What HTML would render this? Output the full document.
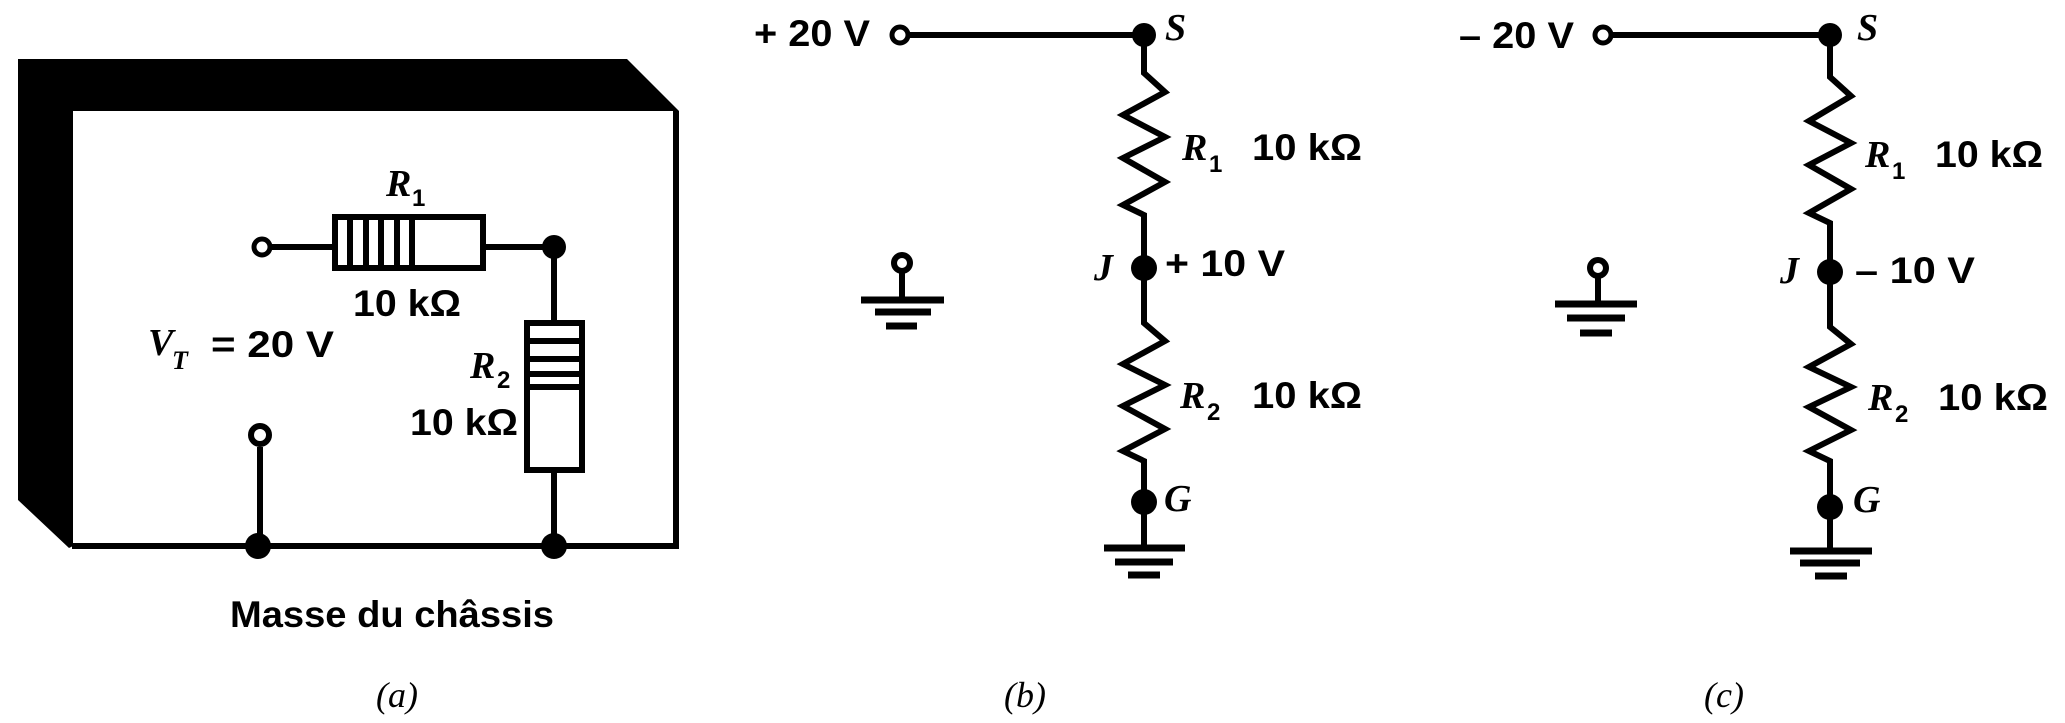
<!DOCTYPE html>
<html><head><meta charset="utf-8"><style>
html,body{margin:0;padding:0;background:#fff;}
svg{display:block;}
.s{font-family:"Liberation Sans",sans-serif;font-weight:bold;font-size:37px;}
.i{font-family:"Liberation Serif",serif;font-style:italic;font-weight:bold;font-size:38px;}
.sub{font-family:"Liberation Sans",sans-serif;font-weight:bold;font-size:24px;}
.c{font-family:"Liberation Serif",serif;font-style:italic;font-size:36px;}
</style></head><body>
<svg width="2065" height="723" viewBox="0 0 2065 723" xmlns="http://www.w3.org/2000/svg">
<polygon points="18,59 627,59 679,111 73,111 73,114 73,546 69,548 18,500" fill="#000"/>
<rect x="74" y="114" width="602" height="431" fill="#fff"/>
<g fill="none" stroke="#000" stroke-width="6">
<polyline points="676,111 676,546 72,546"/>
<line x1="266" y1="247" x2="335" y2="247"/>
<rect x="335" y="217" width="148" height="51"/>
<line x1="350" y1="217" x2="350" y2="268"/>
<line x1="366" y1="217" x2="366" y2="268"/>
<line x1="381" y1="217" x2="381" y2="268"/>
<line x1="397" y1="217" x2="397" y2="268"/>
<line x1="412" y1="217" x2="412" y2="268"/>
<line x1="483" y1="247" x2="554" y2="247"/>
<line x1="554" y1="247" x2="554" y2="323"/>
<rect x="527" y="323" width="55" height="147"/>
<line x1="527" y1="341" x2="582" y2="341"/>
<line x1="527" y1="359" x2="582" y2="359"/>
<line x1="527" y1="374" x2="582" y2="374"/>
<line x1="527" y1="387" x2="582" y2="387"/>
<line x1="554" y1="470" x2="554" y2="546"/>
<line x1="260" y1="447" x2="260" y2="546"/>
<circle cx="262" cy="247" r="8" stroke-width="5" fill="#fff"/>
<circle cx="260" cy="435" r="9" stroke-width="6" fill="#fff"/>
</g>
<g fill="#000">
<circle cx="554" cy="247" r="12"/>
<circle cx="554" cy="546" r="13"/>
<circle cx="258" cy="546" r="13"/>
</g>
<text class="i" x="386" y="196">R</text><text class="sub" x="412" y="206">1</text>
<text class="s" x="353" y="316" textLength="108" lengthAdjust="spacingAndGlyphs">10 kΩ</text>
<text class="i" x="148" y="355">V</text><text class="i" x="172" y="369" style="font-size:26px">T</text>
<text class="s" x="211" y="357" textLength="123" lengthAdjust="spacingAndGlyphs">= 20 V</text>
<text class="i" x="470" y="378">R</text><text class="sub" x="497" y="388">2</text>
<text class="s" x="410" y="435" textLength="108" lengthAdjust="spacingAndGlyphs">10 kΩ</text>
<text class="s" x="230" y="627" textLength="324" lengthAdjust="spacingAndGlyphs">Masse du châssis</text>
<text class="c" x="397" y="707" text-anchor="middle">(a)</text>

<g fill="none" stroke="#000" stroke-width="6">
<line x1="907" y1="35" x2="1144" y2="35"/>
<polyline points="1144,35 1144,73 1165,92 1123,115 1165,137 1123,158 1165,182 1123,205 1144,215 1144,323 1165,341 1123,364 1165,385 1123,406 1165,429 1123,451 1144,461 1144,548"/>
<line x1="1104" y1="548" x2="1185" y2="548" stroke-width="7"/>
<line x1="1115" y1="562" x2="1173" y2="562" stroke-width="7"/>
<line x1="1128" y1="575" x2="1160" y2="575" stroke-width="7"/>
<line x1="902" y1="270" x2="902" y2="300"/>
<line x1="861" y1="300" x2="944" y2="300" stroke-width="7"/>
<line x1="875" y1="312" x2="931" y2="312" stroke-width="7"/>
<line x1="886" y1="326" x2="917" y2="326" stroke-width="7"/>
<circle cx="900" cy="35" r="8" stroke-width="5" fill="#fff"/>
<circle cx="902" cy="263" r="8" stroke-width="6" fill="#fff"/>
</g>
<g fill="#000">
<circle cx="1144" cy="35" r="12"/>
<circle cx="1144" cy="268" r="13"/>
<circle cx="1144" cy="502" r="13"/>
</g>
<text class="s" x="754" y="46" textLength="116" lengthAdjust="spacingAndGlyphs">+ 20 V</text>
<text class="i" x="1165" y="40">S</text>
<text class="i" x="1182" y="160">R</text><text class="sub" x="1209" y="172">1</text>
<text class="s" x="1252" y="160" textLength="110" lengthAdjust="spacingAndGlyphs">10 kΩ</text>
<text class="i" x="1094" y="280">J</text>
<text class="s" x="1165" y="276" textLength="120" lengthAdjust="spacingAndGlyphs">+ 10 V</text>
<text class="i" x="1180" y="408">R</text><text class="sub" x="1207" y="420">2</text>
<text class="s" x="1252" y="408" textLength="110" lengthAdjust="spacingAndGlyphs">10 kΩ</text>
<text class="i" x="1164" y="511">G</text>
<text class="c" x="1025" y="707" text-anchor="middle">(b)</text>

<g fill="none" stroke="#000" stroke-width="6">
<line x1="1610" y1="35" x2="1830" y2="35"/>
<polyline points="1830,35 1830,77 1851,96 1809,121 1851,143 1809,165 1851,189 1809,213 1830,223 1830,327 1851,344 1809,367 1851,387 1809,407 1851,430 1809,451 1830,461 1830,551"/>
<line x1="1790" y1="551" x2="1872" y2="551" stroke-width="7"/>
<line x1="1800" y1="563" x2="1860" y2="563" stroke-width="7"/>
<line x1="1815" y1="576" x2="1847" y2="576" stroke-width="7"/>
<line x1="1598" y1="276" x2="1598" y2="304"/>
<line x1="1555" y1="304" x2="1637" y2="304" stroke-width="7"/>
<line x1="1567" y1="318" x2="1625" y2="318" stroke-width="7"/>
<line x1="1580" y1="333" x2="1612" y2="333" stroke-width="7"/>
<circle cx="1603" cy="35" r="8" stroke-width="5" fill="#fff"/>
<circle cx="1598" cy="268" r="8" stroke-width="6" fill="#fff"/>
</g>
<g fill="#000">
<circle cx="1830" cy="35" r="12"/>
<circle cx="1830" cy="272" r="13"/>
<circle cx="1830" cy="507" r="13"/>
</g>
<text class="s" x="1459" y="48" textLength="115" lengthAdjust="spacingAndGlyphs">– 20 V</text>
<text class="i" x="1857" y="40">S</text>
<text class="i" x="1865" y="167">R</text><text class="sub" x="1892" y="179">1</text>
<text class="s" x="1935" y="167" textLength="108" lengthAdjust="spacingAndGlyphs">10 kΩ</text>
<text class="i" x="1780" y="283">J</text>
<text class="s" x="1855" y="283" textLength="120" lengthAdjust="spacingAndGlyphs">– 10 V</text>
<text class="i" x="1868" y="410">R</text><text class="sub" x="1895" y="422">2</text>
<text class="s" x="1938" y="410" textLength="110" lengthAdjust="spacingAndGlyphs">10 kΩ</text>
<text class="i" x="1853" y="512">G</text>
<text class="c" x="1724" y="707" text-anchor="middle">(c)</text>
</svg>
</body></html>
